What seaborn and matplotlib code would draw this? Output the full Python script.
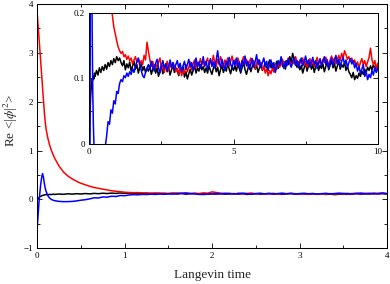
import numpy as np
import pandas as pd
import matplotlib
matplotlib.use("Agg")
import matplotlib.pyplot as plt
import seaborn as sns
from matplotlib.ticker import MultipleLocator, FuncFormatter

# Langevin time, dense at the start where the runs relax
t_early = [0.0, 0.01, 0.02, 0.03, 0.04, 0.05, 0.06, 0.07, 0.08, 0.09, 0.10,
           0.12, 0.14, 0.16, 0.18, 0.20, 0.25, 0.30, 0.35, 0.40, 0.45, 0.50,
           0.55, 0.60, 0.65, 0.70, 0.75, 0.80, 0.85, 0.90, 0.95, 1.00]
t_late = list(np.round(np.arange(1.05, 10.001, 0.05), 2))

# Re <|phi|^2> for three starting configurations
black_early = [0.0, 0.02, 0.04, 0.055, 0.066, 0.075, 0.082, 0.088, 0.092, 0.096, 0.099,
               0.097, 0.104, 0.099, 0.108, 0.103, 0.112, 0.105, 0.116, 0.109, 0.118, 0.112,
               0.121, 0.114, 0.124, 0.118, 0.127, 0.121, 0.130, 0.124, 0.133, 0.127]
black_late = [
    0.131, 0.124, 0.119, 0.127, 0.113, 0.122, 0.116, 0.125, 0.111, 0.119, 0.126, 0.114, 0.121, 0.108, 0.117, 0.123, 0.112, 0.118, 0.109, 0.115,
    0.111, 0.119, 0.106, 0.114, 0.121, 0.108, 0.116, 0.103, 0.112, 0.119, 0.107, 0.115, 0.122, 0.110, 0.117, 0.105, 0.113, 0.120, 0.109, 0.116,
    0.112, 0.104, 0.115, 0.108, 0.118, 0.102, 0.110, 0.099, 0.107, 0.114, 0.105, 0.112, 0.119, 0.108, 0.116, 0.111, 0.121, 0.113, 0.118, 0.109,
    0.116, 0.108, 0.119, 0.112, 0.106, 0.115, 0.121, 0.110, 0.117, 0.104, 0.113, 0.120, 0.109, 0.116, 0.111, 0.123, 0.114, 0.107, 0.118, 0.112,
    0.119, 0.111, 0.122, 0.115, 0.108, 0.117, 0.124, 0.113, 0.106, 0.115, 0.121, 0.110, 0.118, 0.125, 0.114, 0.120, 0.109, 0.116, 0.123, 0.112,
    0.117, 0.124, 0.113, 0.121, 0.128, 0.116, 0.123, 0.110, 0.119, 0.126, 0.115, 0.122, 0.131, 0.118, 0.125, 0.114, 0.127, 0.121, 0.133, 0.124,
    0.138, 0.129, 0.122, 0.117, 0.125, 0.113, 0.120, 0.108, 0.116, 0.123, 0.111, 0.119, 0.126, 0.114, 0.121, 0.109, 0.118, 0.124, 0.112, 0.120,
    0.115, 0.122, 0.110, 0.118, 0.125, 0.113, 0.120, 0.127, 0.116, 0.123, 0.111, 0.119, 0.126, 0.114, 0.121, 0.117, 0.124, 0.112, 0.119, 0.110,
    0.106, 0.101, 0.109, 0.098, 0.104, 0.100, 0.108, 0.103, 0.111, 0.106, 0.114, 0.109, 0.117, 0.112, 0.119, 0.113, 0.121, 0.115, 0.110, 0.118,
]

red_early = [3.78, 3.55, 3.30, 3.05, 2.80, 2.55, 2.28, 2.02, 1.80, 1.60, 1.45,
             1.26, 1.12, 1.01, 0.92, 0.84, 0.68, 0.56, 0.48, 0.42, 0.37, 0.33,
             0.30, 0.27, 0.245, 0.228, 0.21, 0.196, 0.178, 0.168, 0.157, 0.148]
red_late = [
    0.142, 0.138, 0.141, 0.133, 0.136, 0.129, 0.134, 0.127, 0.131, 0.122, 0.128, 0.133, 0.124, 0.130, 0.119, 0.127, 0.121, 0.135, 0.128, 0.155,
    0.141, 0.128, 0.118, 0.126, 0.113, 0.122, 0.117, 0.125, 0.131, 0.114, 0.120, 0.109, 0.118, 0.126, 0.112, 0.121, 0.116, 0.124, 0.119, 0.110,
    0.115, 0.106, 0.118, 0.104, 0.112, 0.108, 0.121, 0.110, 0.117, 0.125, 0.113, 0.122, 0.128, 0.116, 0.124, 0.119, 0.130, 0.121, 0.127, 0.118,
    0.125, 0.131, 0.119, 0.128, 0.122, 0.135, 0.124, 0.118, 0.129, 0.121, 0.133, 0.126, 0.117, 0.128, 0.122, 0.131, 0.119, 0.126, 0.134, 0.123,
    0.128, 0.120, 0.131, 0.124, 0.117, 0.127, 0.133, 0.122, 0.129, 0.118, 0.125, 0.131, 0.121, 0.127, 0.115, 0.123, 0.129, 0.119, 0.124, 0.113,
    0.118, 0.108, 0.115, 0.104, 0.112, 0.107, 0.116, 0.110, 0.121, 0.114, 0.125, 0.117, 0.123, 0.129, 0.119, 0.126, 0.121, 0.131, 0.124, 0.118,
    0.127, 0.122, 0.133, 0.125, 0.119, 0.128, 0.123, 0.131, 0.120, 0.126, 0.117, 0.124, 0.130, 0.121, 0.127, 0.118, 0.125, 0.132, 0.122, 0.128,
    0.121, 0.129, 0.124, 0.132, 0.126, 0.119, 0.128, 0.134, 0.125, 0.131, 0.122, 0.129, 0.135, 0.127, 0.138, 0.131, 0.142, 0.136, 0.129, 0.133,
    0.126, 0.131, 0.122, 0.128, 0.119, 0.125, 0.116, 0.124, 0.130, 0.121, 0.127, 0.118, 0.125, 0.132, 0.146, 0.128, 0.121, 0.127, 0.114, 0.123,
]

blue_early = [-0.55, -0.30, -0.05, 0.15, 0.32, 0.45, 0.53, 0.46, 0.34, 0.24, 0.17,
              0.08, 0.03, 0.0, -0.015, -0.025, -0.04, -0.045, -0.044, -0.04, -0.03, -0.015,
              -0.005, 0.012, 0.034, 0.030, 0.052, 0.047, 0.066, 0.061, 0.080, 0.077]
blue_late = [
    0.092, 0.098, 0.095, 0.104, 0.101, 0.108, 0.103, 0.110, 0.106, 0.115, 0.109, 0.118, 0.126, 0.131, 0.122, 0.112, 0.104, 0.101, 0.109, 0.116,
    0.121, 0.114, 0.126, 0.118, 0.111, 0.123, 0.129, 0.116, 0.108, 0.120, 0.127, 0.115, 0.122, 0.112, 0.119, 0.128, 0.117, 0.124, 0.113, 0.121,
    0.127, 0.116, 0.123, 0.110, 0.119, 0.126, 0.114, 0.121, 0.129, 0.117, 0.124, 0.112, 0.120, 0.131, 0.118, 0.125, 0.115, 0.122, 0.133, 0.119,
    0.126, 0.114, 0.122, 0.130, 0.118, 0.125, 0.116, 0.128, 0.142, 0.124, 0.117, 0.129, 0.121, 0.113, 0.126, 0.119, 0.132, 0.122, 0.115, 0.127,
    0.120, 0.131, 0.118, 0.125, 0.112, 0.127, 0.121, 0.134, 0.119, 0.126, 0.114, 0.123, 0.130, 0.117, 0.125, 0.136, 0.121, 0.128, 0.116, 0.124,
    0.131, 0.119, 0.126, 0.112, 0.121, 0.128, 0.116, 0.124, 0.109, 0.118, 0.127, 0.120, 0.133, 0.122, 0.115, 0.126, 0.119, 0.130, 0.123, 0.117,
    0.125, 0.132, 0.120, 0.127, 0.116, 0.124, 0.131, 0.119, 0.126, 0.134, 0.122, 0.128, 0.117, 0.125, 0.132, 0.121, 0.127, 0.115, 0.123, 0.130,
    0.119, 0.126, 0.133, 0.121, 0.128, 0.116, 0.124, 0.131, 0.120, 0.127, 0.135, 0.123, 0.129, 0.118, 0.126, 0.132, 0.121, 0.128, 0.117, 0.124,
    0.130, 0.122, 0.127, 0.116, 0.123, 0.111, 0.118, 0.108, 0.114, 0.121, 0.103, 0.110, 0.098, 0.106, 0.101, 0.112, 0.105, 0.117, 0.109, 0.115,
]

runs = ["black", "red", "blue"]
colors = {"black": "#000000", "red": "#ff0000", "blue": "#0000ff"}

t_all = t_early + t_late
df = pd.DataFrame({
    "t": t_all * 3,
    "phi2": black_early + black_late + red_early + red_late + blue_early + blue_late,
    "run": sum([[r] * len(t_all) for r in runs], []),
})

sns.set_style("ticks")
plt.rcParams["font.family"] = ["Liberation Serif", "DejaVu Serif"]
plt.rcParams["mathtext.fontset"] = "stix"

fig = plt.figure(figsize=(3.9, 2.84), dpi=100)
ax = fig.add_axes([0.0956, 0.1257, 0.8967, 0.860])
axin = fig.add_axes([0.2290, 0.4930, 0.7395, 0.4623])


def style(a, fs):
    for s in a.spines.values():
        s.set_linewidth(0.75)
        s.set_color("black")
    a.tick_params(which="both", direction="in", top=True, right=True,
                  labelsize=fs, width=0.6, pad=3, colors="black")
    a.tick_params(which="major", length=3.5)
    a.tick_params(which="minor", length=2)


for a in (ax, axin):
    sns.lineplot(data=df, x="t", y="phi2", hue="run", hue_order=runs,
                 palette=colors, estimator=None, sort=False, legend=False,
                 linewidth=1.1, ax=a)

ax.set_xlim(0, 4)
ax.set_ylim(-1, 4)
ax.xaxis.set_major_locator(MultipleLocator(1))
ax.xaxis.set_minor_locator(MultipleLocator(0.5))
ax.yaxis.set_major_locator(MultipleLocator(1))
ax.yaxis.set_minor_locator(MultipleLocator(0.5))
style(ax, 6.5)
ax.set_xlabel("Langevin time", fontsize=9.5)
ax.set_ylabel(r"Re <|$\phi$|$^2$>", fontsize=9.5)
ax.xaxis.set_label_coords(0.5, -0.085)
ax.yaxis.set_label_coords(-0.048, 0.525)

axin.set_xlim(0, 10)
axin.set_ylim(0, 0.2)
axin.set_facecolor("white")
axin.xaxis.set_major_locator(MultipleLocator(5))
axin.xaxis.set_minor_locator(MultipleLocator(2.5))
axin.yaxis.set_major_locator(MultipleLocator(0.1))
axin.yaxis.set_minor_locator(MultipleLocator(0.05))
axin.yaxis.set_major_formatter(FuncFormatter(lambda v, p: "0" if v == 0 else f"{v:g}"))
style(axin, 6.5)
axin.set_xlabel("")
axin.set_ylabel("")

fig.savefig("out.png", dpi=100)
